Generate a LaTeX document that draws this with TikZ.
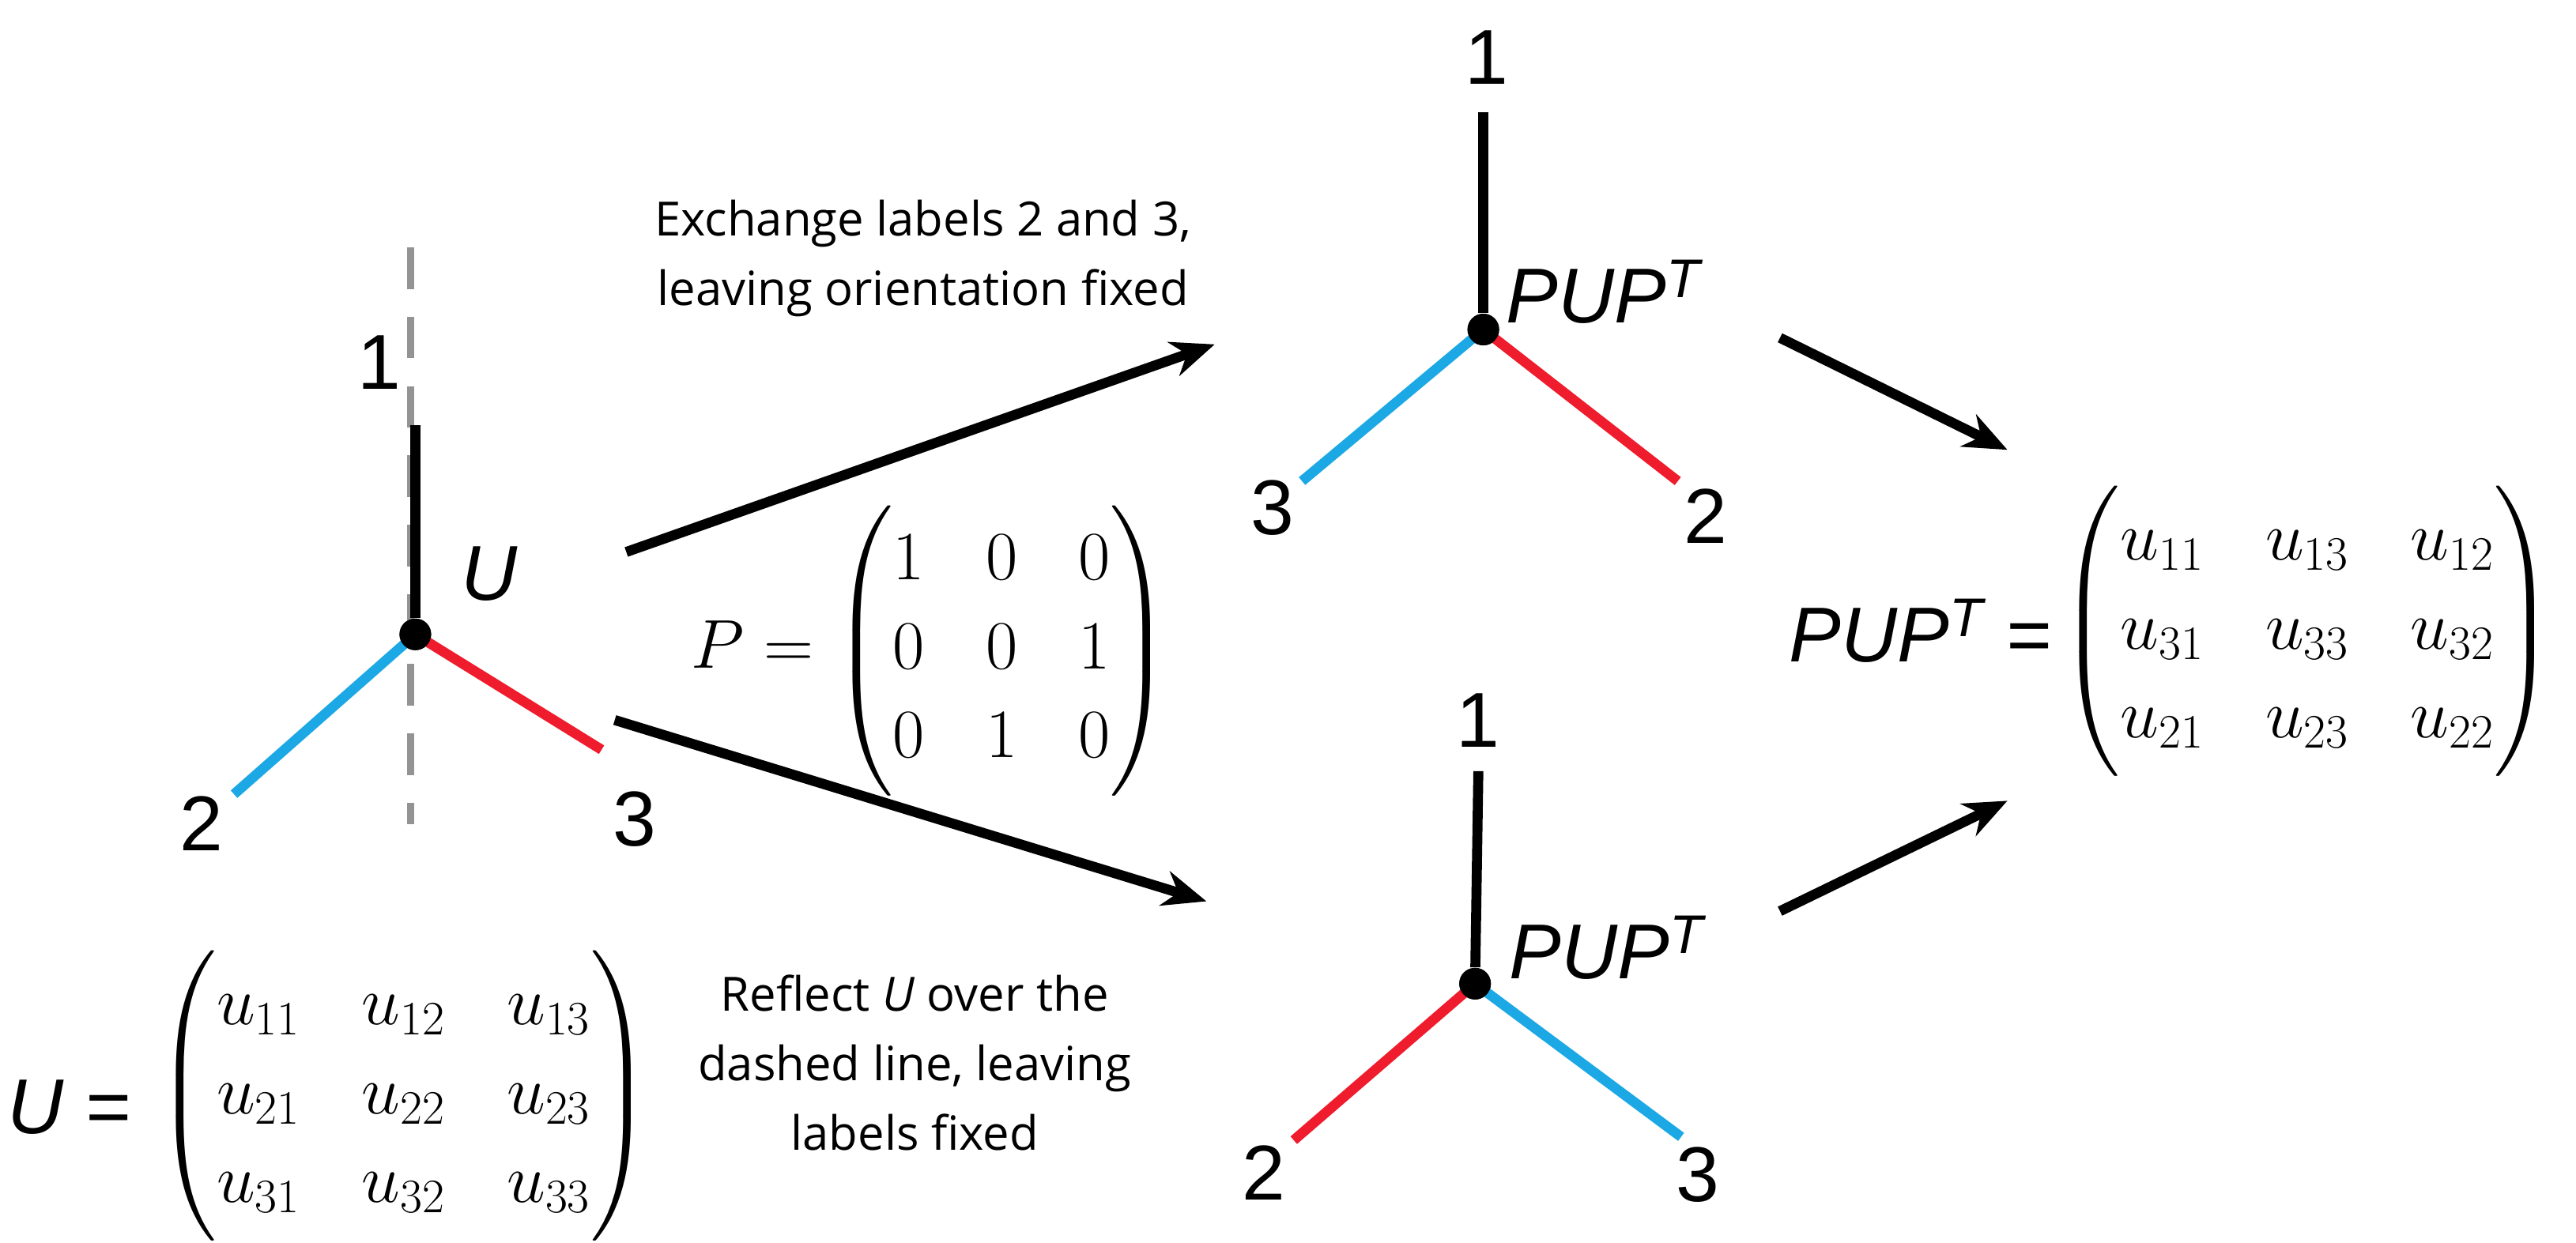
\documentclass[tikz,border=0pt]{standalone}
\usepackage{amsmath}
\usepackage{fontspec}
\setmainfont{Liberation Sans}
\newfontfamily\txt{Open Sans}
\usetikzlibrary{arrows.meta}
\definecolor{cblue}{HTML}{1BA8E4}
\definecolor{cred}{HTML}{EE1C2C}
\begin{document}
\begin{tikzpicture}[x=0.02085cm,y=-0.02085cm,
  edge/.style={line width=3.6pt},
  dot/.style={circle,fill=black,inner sep=0pt,minimum size=0.4cm},
  lab/.style={font=\fontsize{28}{32}\selectfont},
  itl/.style={font=\fontsize{28}{32}\selectfont\itshape},
  desc/.style={font=\txt\fontsize{17}{25}\selectfont,align=center},
  arr/.style={line width=3.6pt,-{Stealth[length=0.55cm,width=0.45cm]}},
  mat/.style={font=\fontsize{27}{32}\selectfont\setlength{\arraycolsep}{11pt}}]
\useasboundingbox (0,0) rectangle (1563,754);
% left
\node[dot] (v1) at (252,385) {};
\coordinate (d1a) at (249,150); \coordinate (d1b) at (249,500);
\draw[gray!85,line width=2.5pt,dash pattern=on 15pt off 10pt] (d1a) -- (d1b);
\coordinate (t1) at (252,258); \coordinate (b1) at (142,482); \coordinate (r1) at (365,455);
\draw[edge] (v1) -- (t1);
\draw[edge,cblue] (v1.center) -- (b1);
\draw[edge,cred] (v1.center) -- (r1);
\node[dot] at (252,385) {};
\node[lab] (l11) at (230,220) {1};
\node[lab] (l12) at (122,500) {2};
\node[lab] (l13) at (385,497) {3};
\node[itl] (U) at (297,348) {U};
% top
\node[dot] (v2) at (900,200) {};
\coordinate (t2) at (900,68); \coordinate (b2) at (790,292); \coordinate (r2) at (1018,292);
\draw[edge] (v2) -- (t2);
\draw[edge,cblue] (v2.center) -- (b2);
\draw[edge,cred] (v2.center) -- (r2);
\node[dot] at (900,200) {};
\node[lab] (l21) at (902,35) {1};
\node[lab] (l23) at (772,308) {3};
\node[lab] (l22) at (1035,313) {2};
\node[itl] (p2) at (973,177) {PUP\textsuperscript{T}};
% bottom
\node[dot] (v3) at (895,597) {};
\coordinate (t3) at (897,468); \coordinate (b3) at (785,692); \coordinate (r3) at (1020,690);
\draw[edge] (v3) -- (t3);
\draw[edge,cred] (v3.center) -- (b3);
\draw[edge,cblue] (v3.center) -- (r3);
\node[dot] at (895,597) {};
\node[lab] (l31) at (897,437) {1};
\node[lab] (l32) at (767,712) {2};
\node[lab] (l33) at (1030,713) {3};
\node[itl] (p3) at (975,575) {PUP\textsuperscript{T}};
% arrows
\coordinate (a1s) at (380,335); \coordinate (a1e) at (737,209);
\coordinate (a2s) at (373,437); \coordinate (a2e) at (732,547);
\coordinate (a3s) at (1080,205); \coordinate (a3e) at (1218,273);
\coordinate (a4s) at (1080,553); \coordinate (a4e) at (1218,486);
\draw[arr] (a1s) -- (a1e);
\draw[arr] (a2s) -- (a2e);
\draw[arr] (a3s) -- (a3e);
\draw[arr] (a4s) -- (a4e);
% texts
\node[desc] (e1) at (560,157) {Exchange labels 2 and 3,\\ leaving orientation fixed};
\node[desc] (e2) at (555,645) {Reflect \textit{U} over the\\ dashed line, leaving\\ labels fixed};
% matrices
\node[mat] (P) at (565,395) {$P=\begin{pmatrix}1&0&0\\0&0&1\\0&1&0\end{pmatrix}$};
\node[itl] (Ueq) at (42,672) {U =};
\node[mat] (UM) at (245,665) {$\begin{pmatrix}u_{11}&u_{12}&u_{13}\\u_{21}&u_{22}&u_{23}\\u_{31}&u_{32}&u_{33}\end{pmatrix}$};
\node[itl] (Reqt) at (1165,383) {PUP\textsuperscript{T} =};
\node[mat] (RM) at (1400,383) {$\begin{pmatrix}u_{11}&u_{13}&u_{12}\\u_{31}&u_{33}&u_{32}\\u_{21}&u_{23}&u_{22}\end{pmatrix}$};
\end{tikzpicture}
\end{document}
